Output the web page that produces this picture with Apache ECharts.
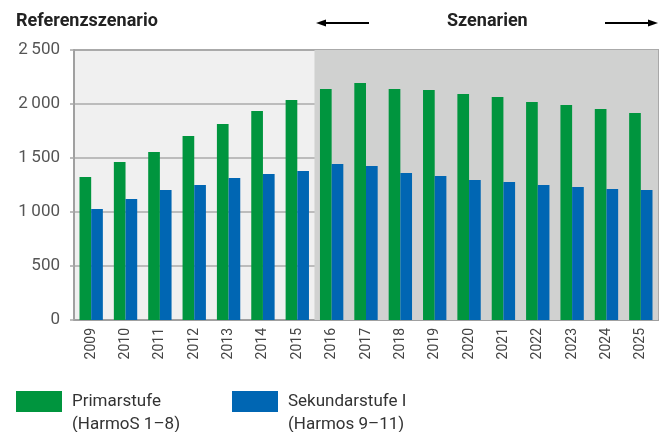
<!DOCTYPE html>
<html><head><meta charset="utf-8">
<script src="https://cdn.jsdelivr.net/npm/echarts@6/dist/echarts.min.js"></script>
<style>html,body{margin:0;padding:0;background:#fff}#c{width:667px;height:432px}</style>
</head><body><div id="c"></div>
<script>
const years = ['2009','2010','2011','2012','2013','2014','2015','2016','2017','2018','2019','2020','2021','2022','2023','2024','2025'];
const primar = [1324,1463,1556,1704,1815,1935,2037,2139,2194,2139,2130,2093,2065,2019,1991,1954,1917];
const sekundar = [1028,1120,1204,1250,1315,1352,1380,1444,1426,1361,1333,1296,1278,1250,1231,1213,1204];
const seriesNames = ['Primarstufe\n(HarmoS 1–8)', 'Sekundarstufe I\n(Harmos 9–11)'];
const scenarioRange = [7, 17];
const yTicks = {min: 0, max: 2500, interval: 500};

const FONT = 'Roboto';
const chart = echarts.init(document.getElementById('c'), null, {renderer: 'canvas'});
const legendText = {fontFamily: FONT, fontSize: 17, color: '#333', lineHeight: 23, padding: [0, 0, 0, 5]};
const legendCommon = {padding: 0, itemWidth: 46, itemHeight: 21, itemGap: 0, icon: 'rect', textStyle: legendText, selectedMode: false,
  formatter: n => '\n' + n};
chart.setOption({
  animation: false,
  textStyle: {fontFamily: FONT},
  title: [
    {text: 'Referenzszenario', left: 16, top: 12, padding: 0, textStyle: {fontFamily: FONT, fontSize: 18, fontWeight: 'bold', color: '#222'}},
    {text: 'Szenarien', left: 447, top: 12, padding: 0, textStyle: {fontFamily: FONT, fontSize: 18, fontWeight: 'bold', color: '#222'}}
  ],
  legend: [
    Object.assign({data: [seriesNames[0]], left: 16, top: 367}, legendCommon),
    Object.assign({data: [seriesNames[1]], left: 232, top: 367}, legendCommon)
  ],
  grid: {left: 74, right: 9, top: 50, bottom: 112, show: true, backgroundColor: '#f0f0f0', borderColor: '#a8a8a8', borderWidth: 2, containLabel: false},
  xAxis: [
    {type: 'category', data: years, axisTick: {show: false},
     axisLine: {lineStyle: {color: '#a0a0a0', width: 2}},
     axisLabel: {rotate: 90, fontSize: 14, color: '#444', fontFamily: FONT, margin: 8}},
    {type: 'value', min: 0, max: years.length, show: false}
  ],
  yAxis: {type: 'value', min: yTicks.min, max: yTicks.max, interval: yTicks.interval,
    axisLine: {show: true, lineStyle: {color: '#a0a0a0', width: 2}},
    axisTick: {show: true, length: 4, lineStyle: {color: '#a8a8a8', width: 1.5}},
    splitLine: {lineStyle: {color: '#ababab', width: 1.5}},
    axisLabel: {fontSize: 17, color: '#555', fontFamily: FONT, margin: 14,
      formatter: v => v >= 1000 ? String(Math.floor(v/1000)) + '\u2009' + String(v%1000).padStart(3,'0') : String(v)}},
  series: [
    {name: 'scenario', type: 'line', xAxisIndex: 1, data: [], silent: true, z: 0,
     markArea: {silent: true, itemStyle: {color: '#d0d1d0'}, data: [[{xAxis: scenarioRange[0]}, {xAxis: scenarioRange[1]}]]}},
    {name: seriesNames[0], type: 'bar', data: primar, barWidth: '34%', barGap: '0%', itemStyle: {color: '#00953e'}, z: 3},
    {name: seriesNames[1], type: 'bar', data: sekundar, barWidth: '34%', barGap: '0%', itemStyle: {color: '#0066b3'}, z: 3}
  ],
  graphic: [
    {type: 'line', shape: {x1: 324, y1: 23, x2: 369, y2: 23}, style: {stroke: '#000', lineWidth: 2}},
    {type: 'polygon', shape: {points: [[316, 23], [326, 19.5], [326, 26.5]]}, style: {fill: '#000'}},
    {type: 'line', shape: {x1: 605, y1: 23, x2: 650, y2: 23}, style: {stroke: '#000', lineWidth: 2}},
    {type: 'polygon', shape: {points: [[658, 23], [648, 19.5], [648, 26.5]]}, style: {fill: '#000'}}
  ]
});
</script></body></html>
